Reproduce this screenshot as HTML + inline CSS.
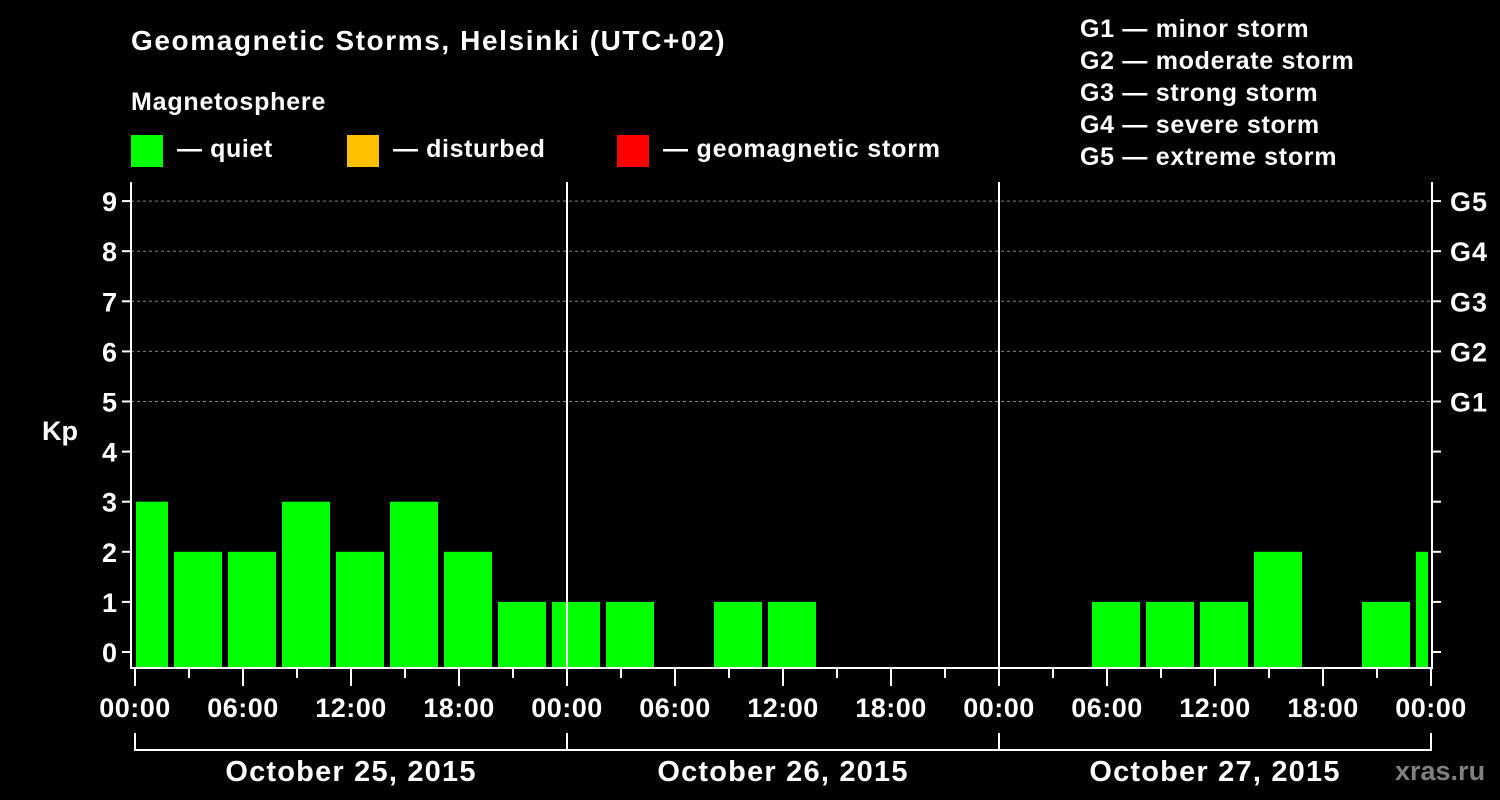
<!DOCTYPE html>
<html><head><meta charset="utf-8"><style>
html,body{margin:0;padding:0;background:#000;}
svg{display:block;font-family:"Liberation Sans",Arial,sans-serif;font-weight:bold;}
</style></head><body>
<svg width="1500" height="800" viewBox="0 0 1500 800">
<rect width="1500" height="800" fill="#000"/>
<text x="131" y="50" fill="#fff" font-size="28" letter-spacing="1.6">Geomagnetic Storms, Helsinki (UTC+02)</text>
<text x="131" y="110" fill="#fff" font-size="25" letter-spacing="0.8">Magnetosphere</text>
<g><rect x="131" y="135" width="32" height="32" fill="#00ff00"/><text x="177" y="157" fill="#fff" font-size="25" letter-spacing="0.6">— quiet</text></g>
<g><rect x="347" y="135" width="32" height="32" fill="#ffc000"/><text x="393" y="157" fill="#fff" font-size="25" letter-spacing="0.6">— disturbed</text></g>
<g><rect x="617" y="135" width="32" height="32" fill="#ff0000"/><text x="663" y="157" fill="#fff" font-size="25" letter-spacing="0.8">— geomagnetic storm</text></g>
<g fill="#fff" font-size="25" letter-spacing="0.7">
<text x="1080" y="37">G1 — minor storm</text>
<text x="1080" y="69">G2 — moderate storm</text>
<text x="1080" y="101">G3 — strong storm</text>
<text x="1080" y="133">G4 — severe storm</text>
<text x="1080" y="165">G5 — extreme storm</text>
</g>
<text x="42" y="440" fill="#fff" font-size="27">Kp</text>
<g id="plot"></g>
<text x="1395" y="780" fill="#808080" font-size="27">xras.ru</text>
</svg>
<script>
const kpValues=[3,2,2,3,2,3,2,1,1,1,0,1,1,0,0,0,0,0,1,1,1,2,0,1,2];
const yTicks=[0,1,2,3,4,5,6,7,8,9];
const gLabels=["G1","G2","G3","G4","G5"];
const hourLabels=["00:00","06:00","12:00","18:00"];
const dayLabels=["October 25, 2015","October 26, 2015","October 27, 2015"];
const NS="http://www.w3.org/2000/svg";
const g=document.getElementById('plot');
const x0=135,dayW=432,L=131,R=1432,T=182,B=668;
const xh=h=>x0+h*dayW/24;
const y=v=>652-v*50.1;
function mk(t,a,p){const e=document.createElementNS(NS,t);for(const k in a)e.setAttribute(k,a[k]);(p||g).appendChild(e);return e;}
for(let v=5;v<=9;v++){const e=mk('line',{x1:L,x2:R,y1:y(v),y2:y(v),stroke:'#808080','stroke-dasharray':'3,3','stroke-width':1});

}
const clip=mk('clipPath',{id:'pc'});mk('rect',{x:136,y:T,width:1428-136,height:B-T},clip);
kpValues.forEach((v,k)=>{if(v<=0)return;const c=xh(k*3);
const col=v>=5?'#ff0000':(v>=4?'#ffc000':'#00ff00');
const e=mk('rect',{x:c-15,y:y(v),width:48,height:B-1-y(v),fill:col,'clip-path':'url(#pc)'});

});
for(let d=1;d<3;d++){mk('line',{x1:xh(24*d),x2:xh(24*d),y1:T,y2:B,stroke:'#fff','stroke-width':2});}
mk('line',{x1:L,x2:L,y1:T,y2:B+1,stroke:'#fff','stroke-width':2});
mk('line',{x1:R,x2:R,y1:T,y2:B+1,stroke:'#fff','stroke-width':2});
mk('line',{x1:L,x2:R+1,y1:B,y2:B,stroke:'#fff','stroke-width':2});
yTicks.forEach(v=>{mk('line',{x1:L-9,x2:L,y1:y(v),y2:y(v),stroke:'#fff','stroke-width':2});
mk('line',{x1:R,x2:R+9,y1:y(v),y2:y(v),stroke:'#fff','stroke-width':2});
const t=mk('text',{x:L-14,y:y(v)+10,fill:'#fff','font-size':27,'text-anchor':'end'});t.textContent=v;

});
gLabels.forEach((s,i)=>{const t=mk('text',{x:1450,y:y(5+i)+10,fill:'#fff','font-size':27,'letter-spacing':1});t.textContent=s;

});
for(let h=0;h<=72;h+=3){const major=h%6===0;mk('line',{x1:xh(h),x2:xh(h),y1:B,y2:major?686:678,stroke:'#fff','stroke-width':2});
if(major){const t=mk('text',{x:xh(h),y:717,fill:'#fff','font-size':27,'letter-spacing':0.5,'text-anchor':'middle'});t.textContent=hourLabels[(h/6)%4];

}}
mk('line',{x1:xh(0),x2:xh(72),y1:750,y2:750,stroke:'#fff','stroke-width':2});
for(let d=0;d<=3;d++)mk('line',{x1:xh(24*d),x2:xh(24*d),y1:733,y2:751,stroke:'#fff','stroke-width':2});
dayLabels.forEach((s,d)=>{const t=mk('text',{x:xh(24*d+12),y:781,fill:'#fff','font-size':29,'letter-spacing':1.2,'text-anchor':'middle'});t.textContent=s;

});
</script>
</body></html>
